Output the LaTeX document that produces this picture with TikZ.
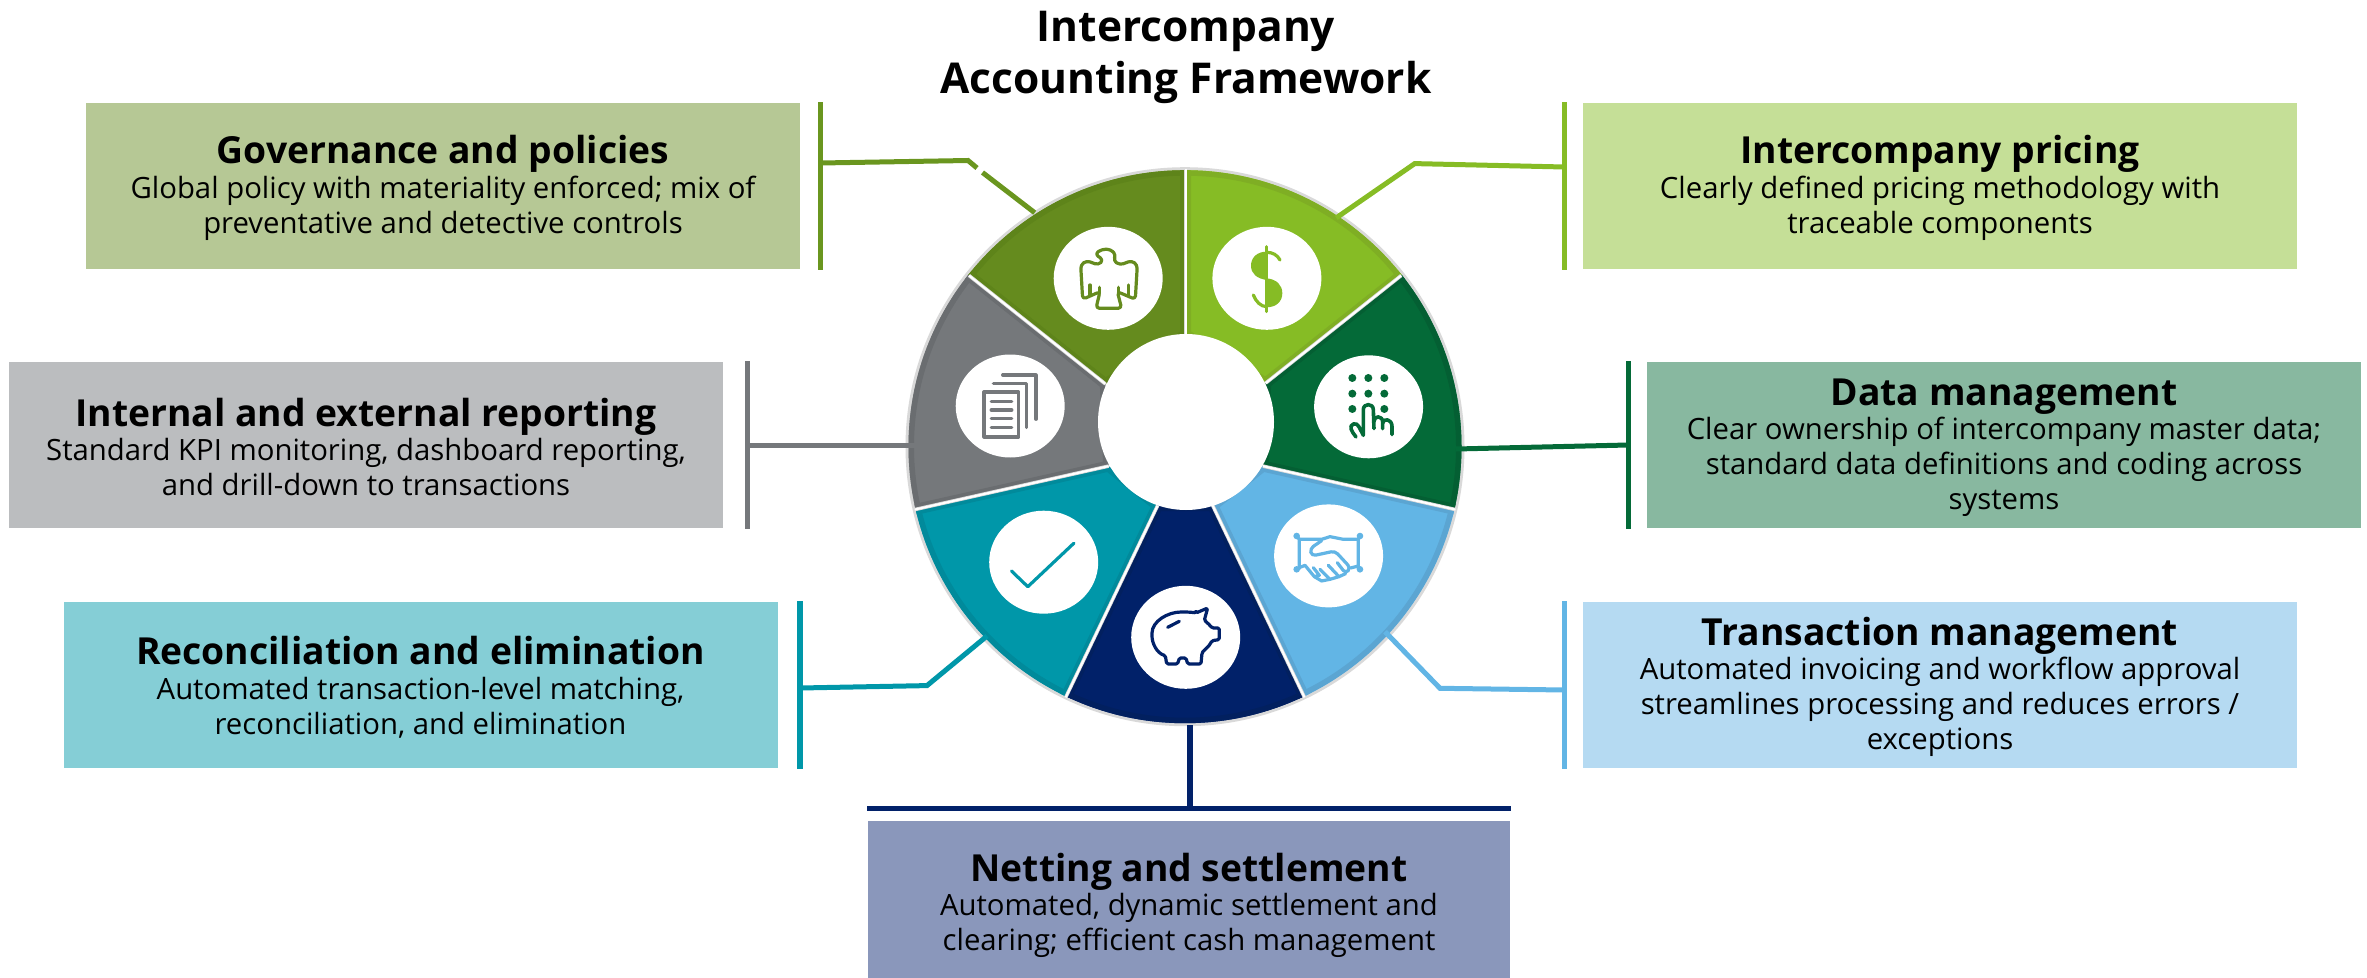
\documentclass[tikz,border=0pt]{standalone}
\usepackage{fontspec}
\setmainfont{Open Sans}
\usetikzlibrary{calc}
\definecolor{GovFill}{HTML}{658B1E}\definecolor{GovEdge}{HTML}{5E841A}\definecolor{GovBox}{HTML}{B6C895}\definecolor{GovLine}{HTML}{6A961F}
\definecolor{PriceFill}{HTML}{86BC25}\definecolor{PriceEdge}{HTML}{7FAE24}\definecolor{PriceBox}{HTML}{C5DF97}
\definecolor{DataFill}{HTML}{046A38}\definecolor{DataEdge}{HTML}{045F33}\definecolor{DataBox}{HTML}{88B8A0}
\definecolor{TransFill}{HTML}{62B5E5}\definecolor{TransEdge}{HTML}{5BA5D2}\definecolor{TransBox}{HTML}{B5DAF2}
\definecolor{NetFill}{HTML}{012169}\definecolor{NetEdge}{HTML}{02205F}\definecolor{NetBox}{HTML}{8A97BB}
\definecolor{ReconFill}{HTML}{0097A9}\definecolor{ReconEdge}{HTML}{018A9B}\definecolor{ReconBox}{HTML}{85CED6}
\definecolor{RepFill}{HTML}{75787B}\definecolor{RepEdge}{HTML}{6A6D70}\definecolor{RepBox}{HTML}{BBBDBF}
\definecolor{RimGray}{HTML}{D9D9D9}
\newcommand{\bodysize}{\fontsize{8.34}{9.96}\selectfont}
\newcommand{\headsize}{\fontsize{10.6}{11}\selectfont\bfseries}
\newcommand{\titlesize}{\fontsize{12.08}{14.8}\selectfont\bfseries}
\newcommand{\headline}[1]{{\headsize\rule{0pt}{9.25pt}#1}}
\newcommand{\wheelseg}[3]{
\begin{scope}
\clip (WC) circle[radius=27.65mm];
\clip #3 -- cycle;
\fill[#1] (WC) circle[radius=29mm];
\draw[#2, line width=1.1mm] #3 -- cycle;
\draw[#2, line width=1.1mm] (WC) circle[radius=27.65mm];
\end{scope}}
\tikzset{
infobox/.style={rectangle, minimum width=71.4mm, minimum height=16.6mm, align=center, inner sep=0pt, font=\bodysize},
barline/.style={line width=0.55mm},
linkline/.style={line width=0.5mm},
iconline/.style={line width=0.32mm, line cap=round, line join=round},
iconat/.style={shift={(#1)}, x=0.03333mm, y=-0.03333mm},
disc/.style={fill=white}
}
\begin{document}
\begin{tikzpicture}[x=0.1mm,y=-0.1mm]
\useasboundingbox (0,0) rectangle (2367,978);

\node[font=\titlesize, align=center, inner sep=0pt] (Title) at (1186,57) {Intercompany\\Accounting Framework};

\node[infobox, fill=GovBox] (Gov) at (443,186) {\headline{Governance and policies}\\[-0.15pt]Global policy with materiality enforced; mix of\\preventative and detective controls};
\node[infobox, fill=PriceBox] (Price) at (1940,186) {\headline{Intercompany pricing}\\[-0.15pt]Clearly defined pricing methodology with\\traceable components};
\node[infobox, fill=RepBox] (Rep) at (366,445) {\headline{Internal and external reporting}\\[-0.15pt]Standard KPI monitoring, dashboard reporting,\\and drill-down to transactions};
\node[infobox, fill=DataBox] (Data) at (2004,445) {\headline{Data management}\\[-0.15pt]Clear ownership of intercompany master data;\\standard data definitions and coding across\\systems};
\node[infobox, fill=ReconBox] (Recon) at (420.5,685) {\headline{Reconciliation and elimination}\\[-0.15pt]Automated transaction-level matching,\\reconciliation, and elimination};
\node[infobox, fill=TransBox] (Trans) at (1940,685) {\headline{Transaction management}\\[-0.15pt]Automated invoicing and workflow approval\\streamlines processing and reduces errors /\\exceptions};
\node[infobox, fill=NetBox, minimum width=64.2mm, minimum height=16.4mm] (Net) at (1189,903) {\headline{Netting and settlement}\\[-0.15pt]Automated, dynamic settlement and\\clearing; efficient cash management};

\draw[barline, GovLine] ([xshift=2mm]Gov.north east) -- ([xshift=2mm]Gov.south east);
\draw[barline, PriceFill] ([xshift=-1.8mm]Price.north west) -- ([xshift=-1.8mm]Price.south west);
\draw[barline, RepFill] ([xshift=2.4mm]Rep.north east) -- ([xshift=2.4mm]Rep.south east);
\draw[barline, DataFill] ([xshift=-1.8mm]Data.north west) -- ([xshift=-1.8mm]Data.south west);
\draw[barline, ReconFill] ([xshift=2.2mm]Recon.north east) -- ([xshift=2.2mm]Recon.south east);
\draw[barline, TransFill] ([xshift=-1.8mm]Trans.north west) -- ([xshift=-1.8mm]Trans.south west);
\draw[barline, NetFill] ([yshift=1.2mm]Net.north west) -- ([yshift=1.2mm]Net.north east);

\coordinate (WC) at (1185,446.7);
\coordinate (T0) at (1185.7,169.5);\coordinate (T1) at (1185.7,334.8);
\coordinate (UR0) at (1401.2,275.5);\coordinate (UR1) at (1265.7,383.1);
\coordinate (UL0) at (969,275.5);\coordinate (UL1) at (1105.3,383.9);
\coordinate (LL0) at (914.7,509.6);\coordinate (LL1) at (1108.6,466.1);
\coordinate (LR0) at (1455.5,509.6);\coordinate (LR1) at (1262.9,466.1);
\coordinate (BL0) at (1065.7,697.4);\coordinate (BL1) at (1157.6,505.6);
\coordinate (BR0) at (1304.5,697.4);\coordinate (BR1) at (1212.7,505.6);

\fill[white] (WC) circle[radius=28mm];
\draw[RimGray, line width=0.3mm] (WC) circle[radius=27.8mm];
\wheelseg{GovFill}{GovEdge}{(T1) -- ($(T1)!1.5!(T0)$) -- ($(UL1)!1.5!(UL0)$) -- (UL1)}
\wheelseg{PriceFill}{PriceEdge}{(T1) -- ($(T1)!1.5!(T0)$) -- ($(UR1)!1.5!(UR0)$) -- (UR1)}
\wheelseg{DataFill}{DataEdge}{(UR1) -- ($(UR1)!1.5!(UR0)$) -- ($(LR1)!1.5!(LR0)$) -- (LR1)}
\wheelseg{TransFill}{TransEdge}{(LR1) -- ($(LR1)!1.5!(LR0)$) -- ($(BR1)!1.5!(BR0)$) -- (BR1)}
\wheelseg{NetFill}{NetEdge}{(BR1) -- ($(BR1)!1.5!(BR0)$) -- ($(BL1)!1.5!(BL0)$) -- (BL1)}
\wheelseg{ReconFill}{ReconEdge}{(BL1) -- ($(BL1)!1.5!(BL0)$) -- ($(LL1)!1.5!(LL0)$) -- (LL1)}
\wheelseg{RepFill}{RepEdge}{(LL1) -- ($(LL1)!1.5!(LL0)$) -- ($(UL1)!1.5!(UL0)$) -- (UL1)}
\draw[RimGray, line width=0.35mm] (T0) -- (T1);
\draw[RimGray, line width=0.35mm] (UR0) -- (UR1);
\draw[RimGray, line width=0.35mm] (UL0) -- (UL1);
\draw[RimGray, line width=0.35mm] (LL0) -- (LL1);
\draw[RimGray, line width=0.35mm] (LR0) -- (LR1);
\draw[RimGray, line width=0.35mm] (BL0) -- (BL1);
\draw[RimGray, line width=0.35mm] (BR0) -- (BR1);
\draw[white, line width=0.2mm] (T0) -- (T1);
\draw[white, line width=0.2mm] (UR0) -- (UR1);
\draw[white, line width=0.2mm] (UL0) -- (UL1);
\draw[white, line width=0.2mm] (LL0) -- (LL1);
\draw[white, line width=0.2mm] (LR0) -- (LR1);
\draw[white, line width=0.2mm] (BL0) -- (BL1);
\draw[white, line width=0.2mm] (BR0) -- (BR1);
\fill[white] (1186,422) circle[radius=8.8mm];

\fill[disc] (1108.2,278.3) ellipse[x radius=5.45mm, y radius=5.15mm];
\fill[disc] (1266.9,278.3) ellipse[x radius=5.45mm, y radius=5.15mm];
\fill[disc] (1368.6,406.8) ellipse[x radius=5.45mm, y radius=5.15mm];
\fill[disc] (1328.6,555.9) ellipse[x radius=5.45mm, y radius=5.15mm];
\fill[disc] (1185.7,637.3) ellipse[x radius=5.45mm, y radius=5.15mm];
\fill[disc] (1043.7,562.2) ellipse[x radius=5.45mm, y radius=5.15mm];
\fill[disc] (1010.2,406) ellipse[x radius=5.45mm, y radius=5.15mm];

\node[shape=coordinate] at (1034.7,212.7) (GovRim) {};
\node[shape=coordinate] at (982.5,172.5) (GovGap) {};
\node[shape=coordinate] at (977,168) (GovEnd) {};
\node[shape=coordinate] at (968,160.5) (GovBend) {};
\node[shape=coordinate] at ([xshift=2mm,yshift=2.3mm]Gov.east) (GovBar) {};
\draw[linkline, GovLine] (GovBar) -- (GovBend) -- (GovEnd);
\draw[linkline, GovLine] (GovGap) -- (GovRim);
\node[shape=coordinate] at (1336.3,217.8) (PriceRim) {};
\node[shape=coordinate] at (1414.7,163.6) (PriceBend) {};
\node[shape=coordinate] at ([xshift=-1.8mm,yshift=1.9mm]Price.west) (PriceBar) {};
\draw[linkline, PriceFill] (PriceBar) -- (PriceBend) -- (PriceRim);
\node[shape=coordinate] at (1456,449) (DataRim) {};
\node[shape=coordinate] at ([xshift=-1.8mm]Data.west) (DataBar) {};
\draw[linkline, DataFill] (DataBar) -- (DataRim);
\node[shape=coordinate] at (1385,631.7) (TransRim) {};
\node[shape=coordinate] at (1440,688.3) (TransBend) {};
\node[shape=coordinate] at ([xshift=-1.8mm,yshift=-0.5mm]Trans.west) (TransBar) {};
\draw[linkline, TransFill] (TransBar) -- (TransBend) -- (TransRim);
\node[shape=coordinate] at (1190,725) (NetRim) {};
\node[shape=coordinate] at ([yshift=1.2mm,xshift=0.1mm]Net.north) (NetBar) {};
\draw[line width=0.55mm, NetFill] (NetBar) -- (NetRim);
\node[shape=coordinate] at (987,636) (ReconRim) {};
\node[shape=coordinate] at (927,685.6) (ReconBend) {};
\node[shape=coordinate] at ([xshift=2.2mm,yshift=-0.3mm]Recon.east) (ReconBar) {};
\draw[linkline, ReconFill] (ReconBar) -- (ReconBend) -- (ReconRim);
\node[shape=coordinate] at (916.7,445) (RepRim) {};
\node[shape=coordinate] at ([xshift=2.4mm]Rep.east) (RepBar) {};
\draw[linkline, RepFill] (RepBar) -- (RepRim);

\begin{scope}[iconat={1060,230}, GovFill]
\draw[iconline, rounded corners=0.35mm] (62,105) -- (68,208) -- (120,185) -- (108,235) -- (185,235) -- (172,185) -- (226,208) -- (232,105) -- (215,92) -- (180,105) -- (160,92) -- (168,75) -- (152,58) -- (125,58) -- (105,72) -- (130,90) -- (115,105) -- (80,92) -- cycle;
\draw[iconline] (90,165) -- (90,195);
\draw[iconline] (118,172) -- (118,190);
\draw[iconline] (176,172) -- (176,190);
\draw[iconline] (205,165) -- (205,195);
\end{scope}

\begin{scope}[iconat={1220,230}, PriceFill]
\fill (140,65) .. controls (112,65) and (93,82) .. (93,107) .. controls (93,132) and (112,146) .. (140,150) -- cycle;
\fill (140,145) .. controls (170,148) and (187,165) .. (187,190) .. controls (187,215) and (168,232) .. (140,232) -- cycle;
\draw[iconline] (140,50) -- (140,245);
\draw[iconline] (140,67) .. controls (158,67) and (172,75) .. (180,90);
\draw[iconline] (140,230) .. controls (122,230) and (108,215) .. (100,195);
\end{scope}

\begin{scope}[iconat={1320,358}, DataFill]
\fill (97,60) circle[radius=0.4mm];
\fill (145,60) circle[radius=0.4mm];
\fill (193,60) circle[radius=0.4mm];
\fill (97,107) circle[radius=0.4mm];
\fill (145,107) circle[radius=0.4mm];
\fill (193,107) circle[radius=0.4mm];
\fill (97,153) circle[radius=0.4mm];
\fill (193,153) circle[radius=0.4mm];
\draw[iconline, line width=0.36mm] (108,237) .. controls (95,220) and (85,205) .. (100,198) .. controls (115,192) and (120,215) .. (130,232) -- (130,155) .. controls (130,135) and (160,135) .. (160,155) -- (162,212);
\draw[iconline, line width=0.36mm] (162,190) .. controls (162,172) and (188,172) .. (188,192) -- (188,212);
\draw[iconline, line width=0.36mm] (188,195) .. controls (190,180) and (216,182) .. (216,205) -- (216,230);
\end{scope}

\begin{scope}[iconat={1280,506}, TransFill]
\fill (50,90) circle[radius=0.33mm];
\fill (240,90) circle[radius=0.33mm];
\fill (50,190) circle[radius=0.33mm];
\fill (240,190) circle[radius=0.33mm];
\draw[iconline] (50,90) -- (58,100) -- (58,188) -- (50,190);
\draw[iconline] (58,100) -- (125,100) -- (150,92) -- (190,100) -- (235,100) -- (240,90);
\draw[iconline] (235,100) -- (235,188) -- (240,190);
\draw[iconline] (235,180) -- (212,186);
\draw[iconline] (58,185) -- (75,178) -- (103,212) -- (118,208) -- (100,185);
\draw[iconline, rounded corners=0.4mm] (125,104) -- (90,128) -- (95,150) -- (165,135) -- (212,186) -- (197,203) -- (172,170);
\draw[iconline] (197,203) -- (177,212) -- (145,178);
\draw[iconline] (177,212) -- (150,220) -- (120,190);
\draw[iconline] (150,220) -- (125,225) -- (103,212);
\end{scope}

\begin{scope}[iconat={1136,588}, NetFill]
\draw[iconline, rounded corners=0.15mm] (180,75) -- (215,60) -- (205,97) .. controls (215,105) and (222,112) .. (228,120) -- (250,120) -- (250,155) -- (228,158) .. controls (218,178) and (205,185) .. (198,195) -- (195,228) -- (155,228) -- (150,210) -- (130,210) -- (125,228) -- (92,228) -- (88,203) .. controls (62,195) and (48,165) .. (48,140) .. controls (48,100) and (95,72) .. (140,72) .. controls (155,72) and (170,73) .. (180,75) -- cycle;
\draw[iconline] (95,118) -- (130,100);
\end{scope}

\coordinate (CheckA) at (1011.4,570.9);\coordinate (CheckB) at (1027.8,586.7);\coordinate (CheckC) at (1073.9,543.2);
\draw[iconline, ReconFill, line width=0.32mm] (CheckA) -- (CheckB) -- (CheckC);

\begin{scope}[iconat={960,356}, RepFill]
\draw[iconline] (72,108) rectangle (176,243);
\draw[iconline, line width=0.36mm] (94,137) -- (155,137);
\draw[iconline, line width=0.36mm] (94,162) -- (155,162);
\draw[iconline, line width=0.36mm] (94,188) -- (155,188);
\draw[iconline, line width=0.36mm] (94,214) -- (155,214);
\draw[iconline] (100,82) -- (200,82) -- (200,215);
\draw[iconline] (128,57) -- (228,57) -- (228,190);
\end{scope}
\end{tikzpicture}
\end{document}
